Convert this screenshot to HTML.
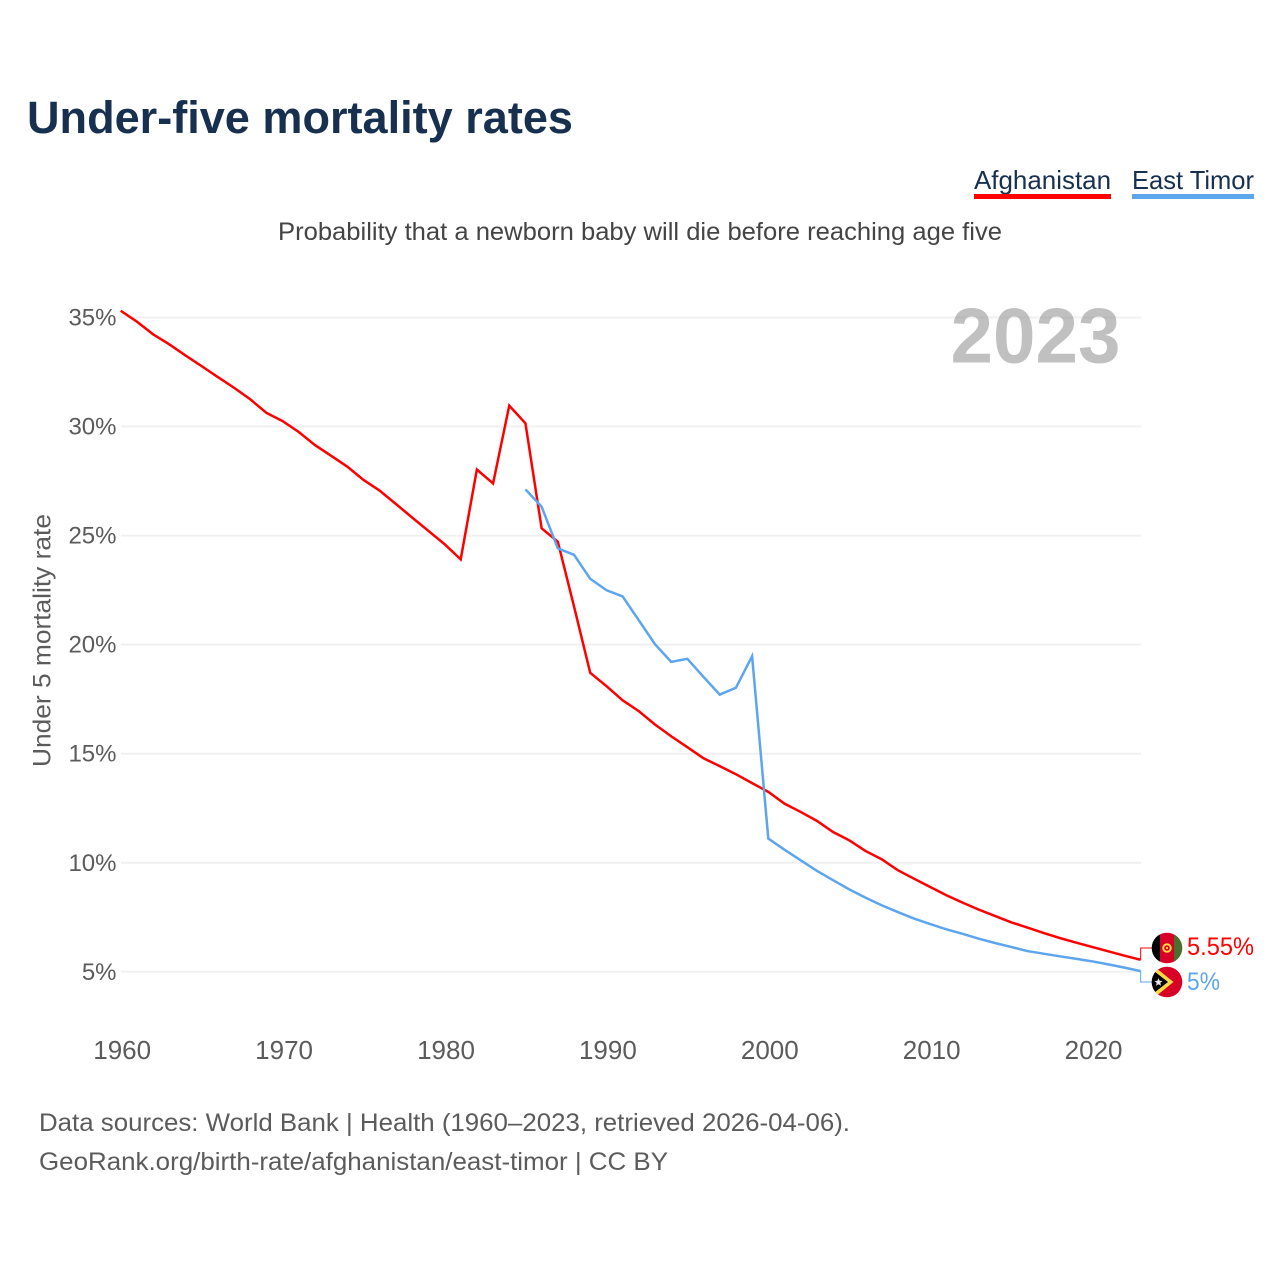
<!DOCTYPE html>
<html lang="en">
<head>
<meta charset="utf-8">
<title>Under-five mortality rates</title>
<style>
html,body{margin:0;padding:0;background:#fff}
svg{display:block;font-family:"Liberation Sans",sans-serif}
</style>
</head>
<body>
<svg id="chart" width="1280" height="1280" viewBox="0 0 1280 1280" xmlns="http://www.w3.org/2000/svg">
  <defs>
    <clipPath id="clip-af"><circle cx="1167" cy="948" r="15.3"/></clipPath>
    <clipPath id="clip-tl"><circle cx="1167" cy="982" r="15.3"/></clipPath>
  </defs>
  <rect width="1280" height="1280" fill="#fff"/>
  <text x="27" y="133" font-size="45" font-weight="700" fill="#18304f" textLength="546" lengthAdjust="spacingAndGlyphs">Under-five mortality rates</text>

  <g>
    <text x="974" y="189" font-size="26" fill="#18304f" textLength="137" lengthAdjust="spacingAndGlyphs">Afghanistan</text>
    <rect x="974" y="194" width="137" height="5" fill="#ff0000"/>
  </g>
  <g>
    <text x="1132" y="189" font-size="26" fill="#18304f" textLength="122" lengthAdjust="spacingAndGlyphs">East Timor</text>
    <rect x="1132" y="194" width="122" height="5" fill="#5da5ec"/>
  </g>

  <text x="278" y="240" font-size="25" fill="#444" textLength="724" lengthAdjust="spacingAndGlyphs">Probability that a newborn baby will die before reaching age five</text>

  <g id="grid"></g>
  <g id="yticks"></g>
  <g id="xticks"></g>

  <text x="950.5" y="362.5" font-size="78" font-weight="700" fill="#999999" fill-opacity="0.62" textLength="170" lengthAdjust="spacingAndGlyphs">2023</text>

  <text transform="translate(50.5,767) rotate(-90)" x="0" y="0" font-size="25" fill="#5b5b5b" textLength="253" lengthAdjust="spacingAndGlyphs">Under 5 mortality rate</text>

  <g id="series"></g>

  <g clip-path="url(#clip-af)">
    <rect x="1150" y="930" width="10" height="36" fill="#000"/>
    <rect x="1160" y="930" width="14" height="36" fill="#d80027"/>
    <rect x="1174" y="930" width="10" height="36" fill="#496e2d"/>
    <circle cx="1167" cy="948" r="3.8" fill="none" stroke="#ffda44" stroke-width="2"/>
    <circle cx="1167" cy="948" r="1.1" fill="#ffda44"/>
  </g>
  <g clip-path="url(#clip-tl)">
    <rect x="1150" y="965" width="36" height="36" fill="#d80027"/>
    <polygon points="1150,963 1150,1001 1173.5,982" fill="#ffda44"/>
    <polygon points="1150,968 1150,996 1168,982" fill="#000"/>
    <polygon points="1158.5,978 1159.6,980.8 1162.5,981 1160.3,982.9 1161,985.8 1158.5,984.2 1156,985.8 1156.7,982.9 1154.5,981 1157.4,980.8" fill="#e8e8e8"/>
  </g>

  <text x="1187" y="955" font-size="25" fill="#ff0000" textLength="67" lengthAdjust="spacingAndGlyphs">5.55%</text>
  <text x="1187" y="990" font-size="25" fill="#5da5ec" textLength="33" lengthAdjust="spacingAndGlyphs">5%</text>

  <text x="39" y="1131" font-size="25" fill="#5b5b5b" textLength="811" lengthAdjust="spacingAndGlyphs">Data sources: World Bank | Health (1960–2023, retrieved 2026-04-06).</text>
  <text x="39" y="1170" font-size="25" fill="#5b5b5b" textLength="629" lengthAdjust="spacingAndGlyphs">GeoRank.org/birth-rate/afghanistan/east-timor | CC BY</text>
</svg>
<script>
const yTickValues = [5, 10, 15, 20, 25, 30, 35];
const xTickYears = [1960, 1970, 1980, 1990, 2000, 2010, 2020];
const afghanistanStartYear = 1960;
const afghanistanValues = [
  35.31, 34.81, 34.23, 33.77, 33.26, 32.77, 32.27, 31.78, 31.25, 30.63,
  30.25, 29.75, 29.15, 28.66, 28.16, 27.55, 27.06, 26.45, 25.83, 25.22,
  24.61, 23.91, 28.03, 27.39, 30.96, 30.15, 25.33, 24.72, 21.75, 18.71,
  18.10, 17.45, 16.95, 16.34, 15.80, 15.30, 14.79, 14.43, 14.06, 13.65,
  13.25, 12.71, 12.33, 11.92, 11.41, 11.03, 10.54, 10.16, 9.66, 9.27,
  8.89, 8.51, 8.17, 7.85, 7.56, 7.27, 7.03, 6.78, 6.55, 6.34,
  6.14, 5.94, 5.74, 5.55
];
const eastTimorStartYear = 1985;
const eastTimorValues = [
  27.12, 26.32, 24.41, 24.12, 23.02, 22.50, 22.21, 21.12, 20.02, 19.21,
  19.35, 18.52, 17.71, 18.02, 19.47, 11.11, 10.60, 10.11, 9.63, 9.20,
  8.78, 8.40, 8.05, 7.74, 7.44, 7.19, 6.95, 6.74, 6.52, 6.32,
  6.14, 5.95, 5.83, 5.71, 5.60, 5.48, 5.34, 5.19, 5.03
];

const NS = 'http://www.w3.org/2000/svg';
function xScale(year) { return 120.7 + (year - 1960) * 16.19; }
function yScale(v) { return 971.8 - (v - 5) * 21.81; }
function make(tag, attrs, parent) {
  const el = document.createElementNS(NS, tag);
  for (const k in attrs) el.setAttribute(k, attrs[k]);
  parent.appendChild(el);
  return el;
}

const gridLayer = document.getElementById('grid');
const yLayer = document.getElementById('yticks');
yTickValues.forEach(function (v) {
  const line = make('line', { x1: 121, x2: 1141, y1: yScale(v), y2: yScale(v), stroke: '#f0f0f0', 'stroke-width': 2 }, gridLayer);
  
  
  const label = make('text', { x: 116.5, y: yScale(v) + 8, 'text-anchor': 'end', 'font-size': 24, fill: '#5b5b5b' }, yLayer);
  
  
  label.textContent = v + '%';
});

const xLayer = document.getElementById('xticks');
xTickYears.forEach(function (year) {
  const label = make('text', { x: xScale(year) + 1.5, y: 1059, 'text-anchor': 'middle', 'font-size': 26, fill: '#5b5b5b' }, xLayer);
  
  
  label.textContent = year;
});

const seriesLayer = document.getElementById('series');
function seriesPoints(startYear, values) {
  return values.map(function (v, i) {
    return xScale(startYear + i).toFixed(2) + ',' + yScale(v).toFixed(2);
  }).join(' ');
}
const afghanistanLine = make('polyline', { points: seriesPoints(afghanistanStartYear, afghanistanValues), fill: 'none', stroke: '#ff0000', 'stroke-width': 2.5, 'stroke-linejoin': 'miter' }, seriesLayer);


const eastTimorLine = make('polyline', { points: seriesPoints(eastTimorStartYear, eastTimorValues), fill: 'none', stroke: '#5da5ec', 'stroke-width': 2.5, 'stroke-linejoin': 'miter' }, seriesLayer);



const endX = xScale(afghanistanStartYear + afghanistanValues.length - 1);
const afEndY = yScale(afghanistanValues[afghanistanValues.length - 1]);
const tlEndY = yScale(eastTimorValues[eastTimorValues.length - 1]);
const afConnector = make('polyline', { points: endX + ',' + afEndY + ' ' + endX + ',948 1152,948', fill: 'none', stroke: '#ff0000', 'stroke-width': 1 }, seriesLayer);


const tlConnector = make('polyline', { points: endX + ',' + tlEndY + ' ' + endX + ',982 1152,982', fill: 'none', stroke: '#5da5ec', 'stroke-width': 1 }, seriesLayer);


</script>
</body>
</html>
